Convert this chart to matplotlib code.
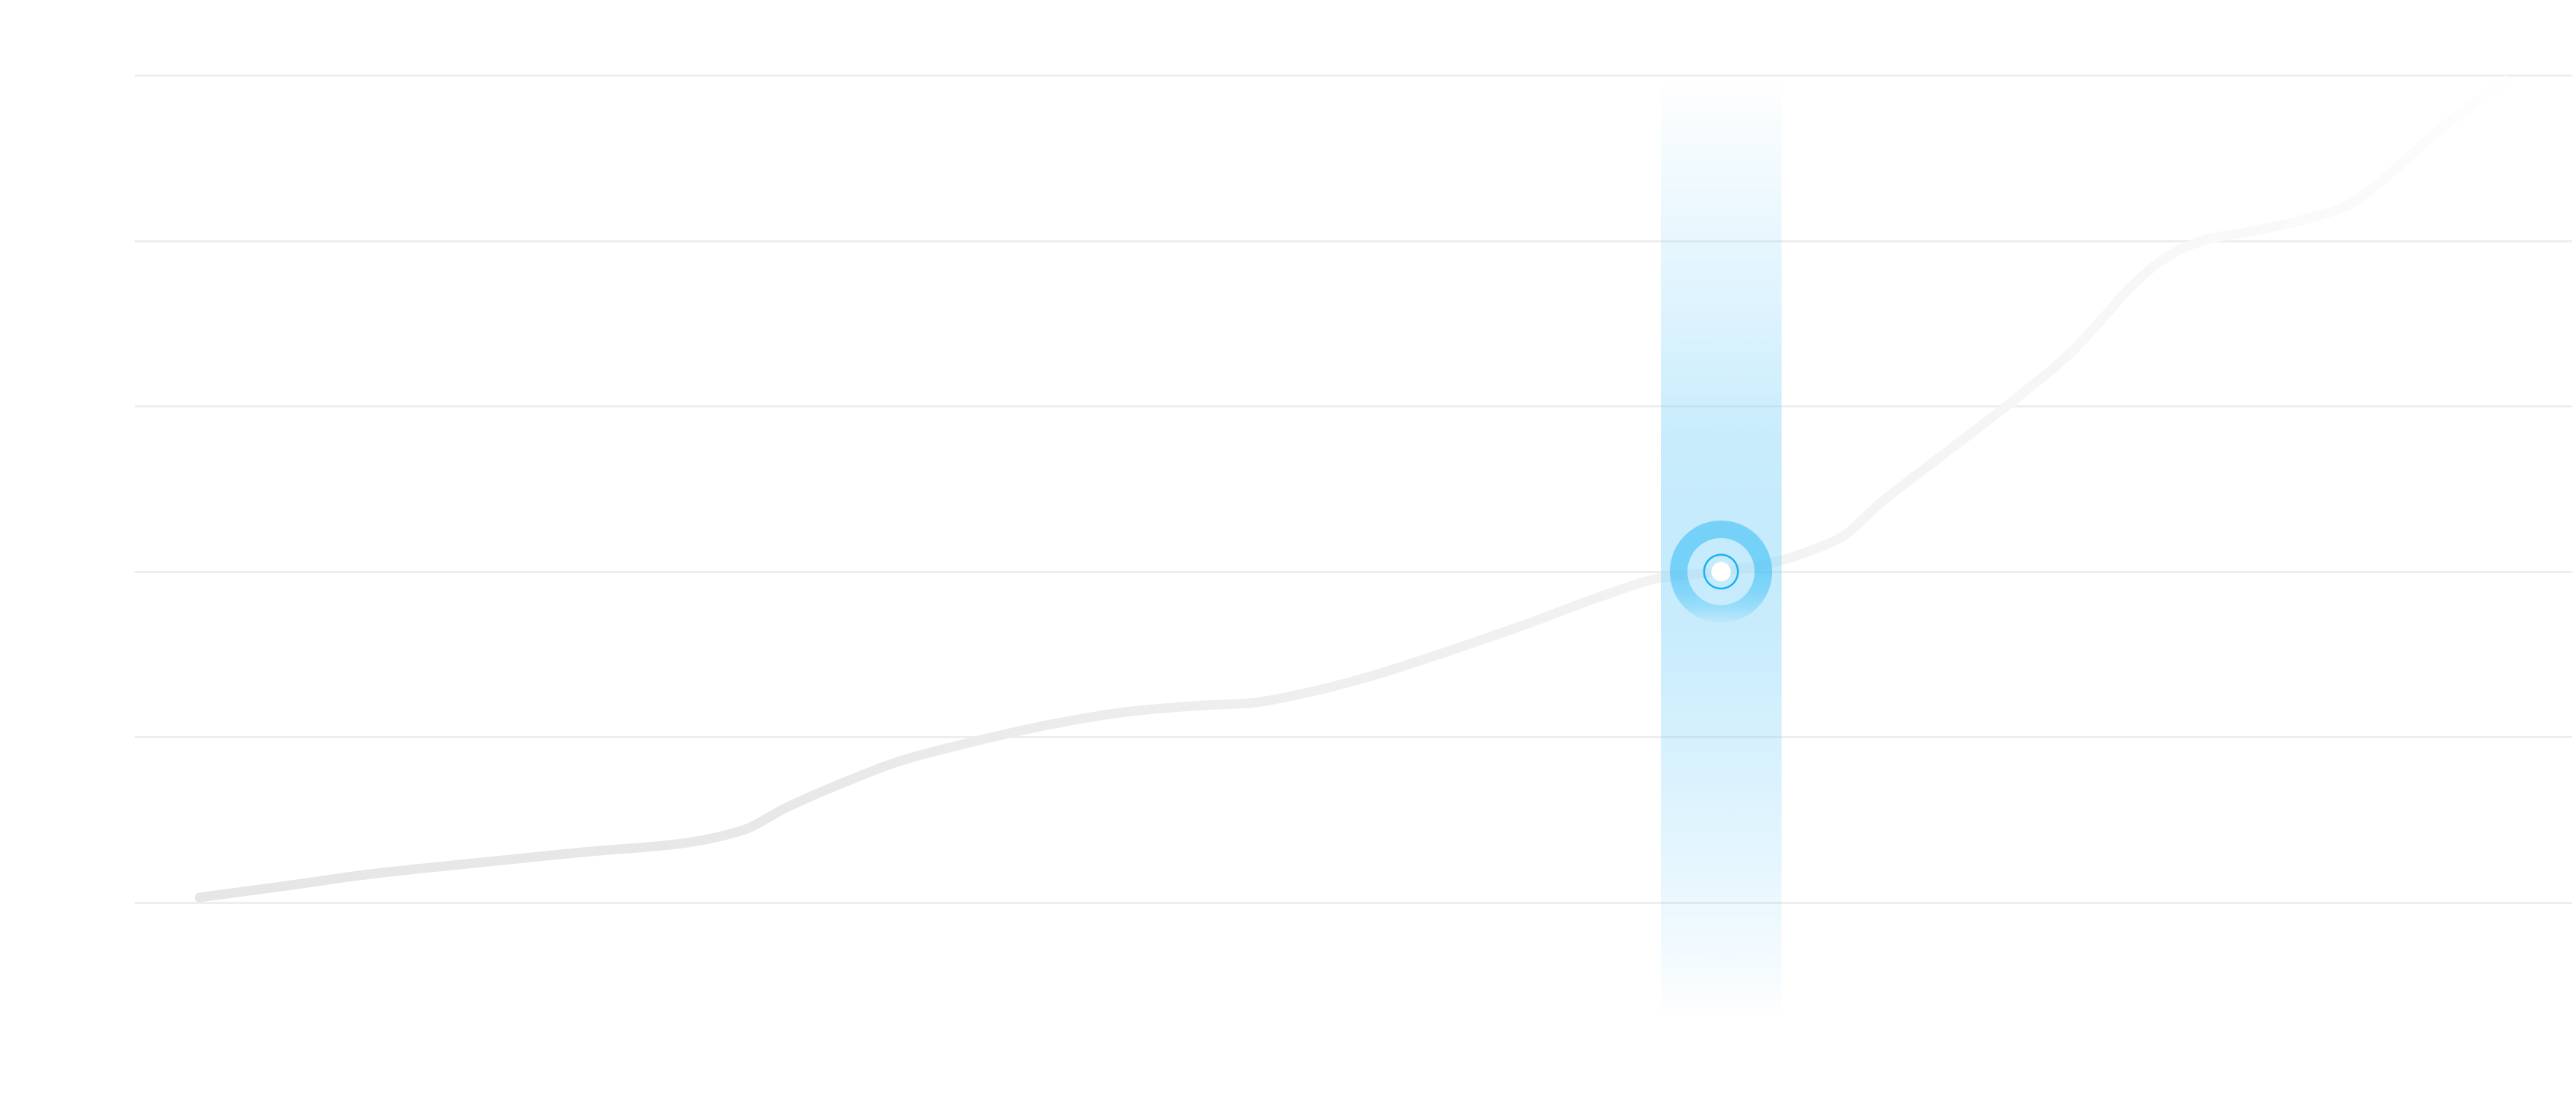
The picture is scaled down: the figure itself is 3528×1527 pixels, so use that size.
import numpy as np
import matplotlib
matplotlib.use("Agg")
import matplotlib.pyplot as plt
from matplotlib.path import Path
from matplotlib.patches import Circle, Wedge, PathPatch
from matplotlib.colors import to_rgb


# value levels of the horizontal guide lines
grid_levels = [0, 1, 2, 3, 4, 5]

# trend line (x on a 0-100 scale, y in grid steps)
line_x = [2.67, 6.47, 9.47, 15.13, 18.45, 22.44, 24.96, 26.75, 29.45, 31.43,
          33.43, 37.93, 40.92, 43.92, 45.72, 47.90, 50.42, 52.91, 57.25, 60.40,
          62.70, 65.10, 67.49, 68.78, 70.07, 71.63, 73.88, 76.81, 79.51, 80.65,
          82.00, 83.16, 84.03, 85.26, 86.28, 88.26, 89.63, 90.77, 91.85, 93.02,
          94.25, 95.27, 96.35, 97.30]
line_y = [0.031, 0.106, 0.168, 0.256, 0.305, 0.357, 0.437, 0.574, 0.746, 0.856,
          0.936, 1.086, 1.156, 1.192, 1.205, 1.262, 1.355, 1.470, 1.690, 1.862,
          1.964, 2.000, 2.065, 2.127, 2.211, 2.414, 2.670, 3.001, 3.332, 3.513,
          3.733, 3.879, 3.954, 4.016, 4.042, 4.100, 4.153, 4.210, 4.320, 4.466,
          4.629, 4.749, 4.868, 4.969]

# highlighted point
focus_x = 65.10
focus_y = 2.00


# ----------------------------------------------------------------------
#   figure setup
# ----------------------------------------------------------------------
W, H, DPI = 3528, 1527, 200
PX = 72 / DPI  # points per pixel

fig = plt.figure(figsize=(W / DPI, H / DPI), dpi=DPI)
fig.patch.set_facecolor("white")
ax = fig.add_axes([0, 0, 1, 1])
ax.axis("off")

# guide lines
ax.hlines(grid_levels, 0, 100, colors="#eeeeee", linewidth=3 * PX, zorder=1)

# trend line: monotone cubic curve through the points, fading to the right
xs = np.asarray(line_x)
ys = np.asarray(line_y)
n = len(xs)
h = np.diff(xs)
d = np.diff(ys) / h

m = np.zeros(n)
m[0], m[-1] = d[0], d[-1]
for i in range(1, n - 1):
    if d[i - 1] * d[i] > 0:
        w1 = 2 * h[i] + h[i - 1]
        w2 = h[i] + 2 * h[i - 1]
        m[i] = (w1 + w2) / (w1 / d[i - 1] + w2 / d[i])

mid_x = (xs[:-1] + xs[1:]) / 2
t = (mid_x - xs[0]) / (xs[-1] - xs[0])
gray = np.interp(t, [0, 0.26, 0.45, 0.64, 0.77, 0.86, 0.96, 1.0],
                 [230, 232, 238, 242, 245, 248, 251, 254]) / 255

codes = [Path.MOVETO, Path.CURVE4, Path.CURVE4, Path.CURVE4]
for i in range(n - 1):
    p1 = (xs[i], ys[i])
    p2 = (xs[i + 1], ys[i + 1])
    c1 = (xs[i] + h[i] / 3, ys[i] + m[i] * h[i] / 3)
    c2 = (xs[i + 1] - h[i] / 3, ys[i + 1] - m[i + 1] * h[i] / 3)
    seg = PathPatch(Path([p1, c1, c2, p2], codes), facecolor="none",
                    edgecolor=(gray[i], gray[i], gray[i]), linewidth=13 * PX,
                    capstyle="round", joinstyle="round", zorder=2)
    ax.add_patch(seg)

# vertical highlight band
band_half = 2.47
band_lo, band_hi = -0.70, 4.97
yy = np.linspace(band_lo, band_hi, 500)
band_alpha = np.interp(yy, [-0.70, -0.40, 0.48, 1.48, 2.0, 2.37, 2.81, 3.69, 4.57, 4.97],
                       [0, 0.08, 0.24, 0.40, 0.45, 0.445, 0.42, 0.24, 0.08, 0])
band = np.zeros((len(yy), 1, 4))
band[..., :3] = to_rgb("#7fd3fa")
band[:, 0, 3] = band_alpha
ax.imshow(band, extent=[focus_x - band_half, focus_x + band_half, band_lo, band_hi],
          origin="lower", aspect="auto", interpolation="bilinear", zorder=3)

ax.set_xlim(-5.51, 100.18)
ax.set_ylim(-1.284, 5.455)

# ----------------------------------------------------------------------
#   marker on the highlighted point (drawn in pixel units)
# ----------------------------------------------------------------------
cx, cy = ax.transData.transform((focus_x, focus_y))
size = 170
mk = fig.add_axes([(cx - size / 2) / W, (cy - size / 2) / H, size / W, size / H])
mk.set_xlim(-size / 2, size / 2)
mk.set_ylim(-size / 2, size / 2)
mk.axis("off")

vv = np.linspace(-70, 70, 300)
ring_alpha = np.interp(vv, [-70, -50, -30, 0, 70], [0.05, 0.25, 0.38, 0.47, 0.47])
ring = np.zeros((len(vv), 1, 4))
ring[..., :3] = to_rgb("#1ab5f5")
ring[:, 0, 3] = ring_alpha
im = mk.imshow(ring, extent=[-70, 70, -70, 70], origin="lower",
               aspect="auto", interpolation="bilinear", zorder=1)
halo = Wedge((0, 0), 70, 0, 360, width=24, transform=mk.transData)
im.set_clip_path(halo)

mk.add_patch(Circle((0, 0), 23.2, fill=False, edgecolor="#1ab3f3",
                    linewidth=2.6 * PX, zorder=2))
mk.add_patch(Circle((0, 0), 13.3, facecolor="white", edgecolor="none", zorder=3))

fig.savefig("out.png", dpi=DPI, facecolor="white")
